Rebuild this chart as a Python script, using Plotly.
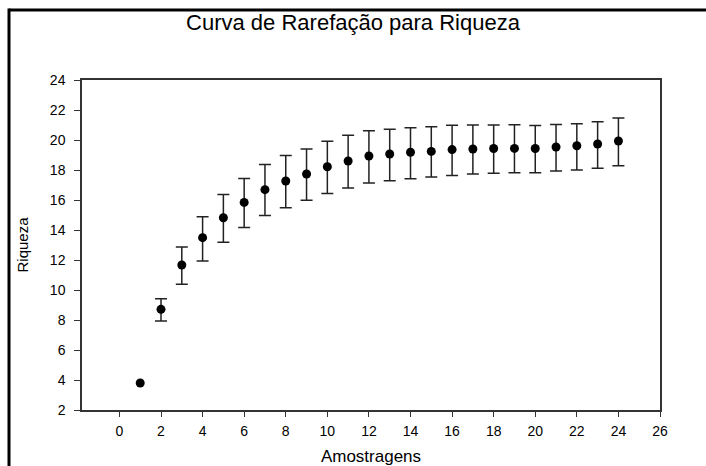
import plotly.graph_objects as go

amostragens = list(range(1, 25))
riqueza = [3.8, 8.71, 11.67, 13.49, 14.82, 15.84, 16.69, 17.27, 17.73, 18.22,
           18.6, 18.93, 19.07, 19.18, 19.24, 19.36, 19.4, 19.43, 19.44, 19.43,
           19.53, 19.62, 19.73, 19.93]
erro_sup = [None, 9.42, 12.87, 14.89, 16.36, 17.44, 18.36, 18.96, 19.4, 19.91,
            20.31, 20.62, 20.71, 20.82, 20.89, 20.98, 21.0, 21.0, 21.02, 20.96,
            21.04, 21.09, 21.22, 21.47]
erro_inf = [None, 7.93, 10.38, 11.93, 13.18, 14.16, 14.96, 15.49, 15.98, 16.44,
            16.8, 17.13, 17.29, 17.42, 17.53, 17.64, 17.73, 17.78, 17.82, 17.82,
            17.93, 18.0, 18.11, 18.29]

idx = [k for k, s in enumerate(erro_sup) if s is not None]
ex = [amostragens[k] for k in idx]
ey = [riqueza[k] for k in idx]
plus = [erro_sup[k] - riqueza[k] for k in idx]
minus = [riqueza[k] - erro_inf[k] for k in idx]

x_ticks = list(range(0, 27, 2))
y_ticks = list(range(2, 25, 2))

font = "Liberation Sans, Arial, sans-serif"

fig = go.Figure()
fig.add_trace(go.Scatter(
    x=ex, y=ey, mode="markers",
    marker=dict(color="black", size=1, opacity=0),
    error_y=dict(type="data", array=plus, arrayminus=minus,
                 color="#222222", thickness=1.5, width=6),
    showlegend=False, hoverinfo="skip",
))
fig.add_trace(go.Scatter(
    x=amostragens, y=riqueza, mode="markers",
    marker=dict(color="black", size=9),
    showlegend=False,
))

fig.update_layout(
    width=706, height=466,
    margin=dict(l=82, r=46, t=80, b=56),
    paper_bgcolor="white", plot_bgcolor="white",
    font=dict(family=font, color="black", size=14),
    title=dict(text="Curva de Rarefação para Riqueza", x=0.5, xanchor="center",
               y=0.953, yanchor="middle", font=dict(size=22, family=font)),
    xaxis=dict(range=[-1.8, 26], tickvals=x_ticks, ticks="outside", ticklen=5,
               tickcolor="#333", showline=True, linecolor="#333", linewidth=1.5,
               mirror=True, showgrid=False, zeroline=False, automargin=False,
               ticklabelstandoff=2,
               title=dict(text="Amostragens", font=dict(size=17), standoff=16)),
    yaxis=dict(range=[2, 24], tickvals=y_ticks, ticks="outside", ticklen=6,
               tickcolor="#333", showline=True, linecolor="#333", linewidth=1.5,
               mirror=True, showgrid=False, zeroline=False, automargin=False,
               ticklabelstandoff=6,
               title=dict(text="Riqueza", font=dict(size=15), standoff=18)),
    shapes=[
        dict(type="line", xref="paper", yref="paper",
             x0=-0.1263, x1=1.2, y0=1.2121, y1=1.2121,
             line=dict(color="black", width=3), layer="above"),
        dict(type="line", xref="paper", yref="paper",
             x0=-0.1263, x1=-0.1263, y0=-0.3, y1=1.2167,
             line=dict(color="black", width=3), layer="above"),
    ],
)

fig.write_html("out.html")
